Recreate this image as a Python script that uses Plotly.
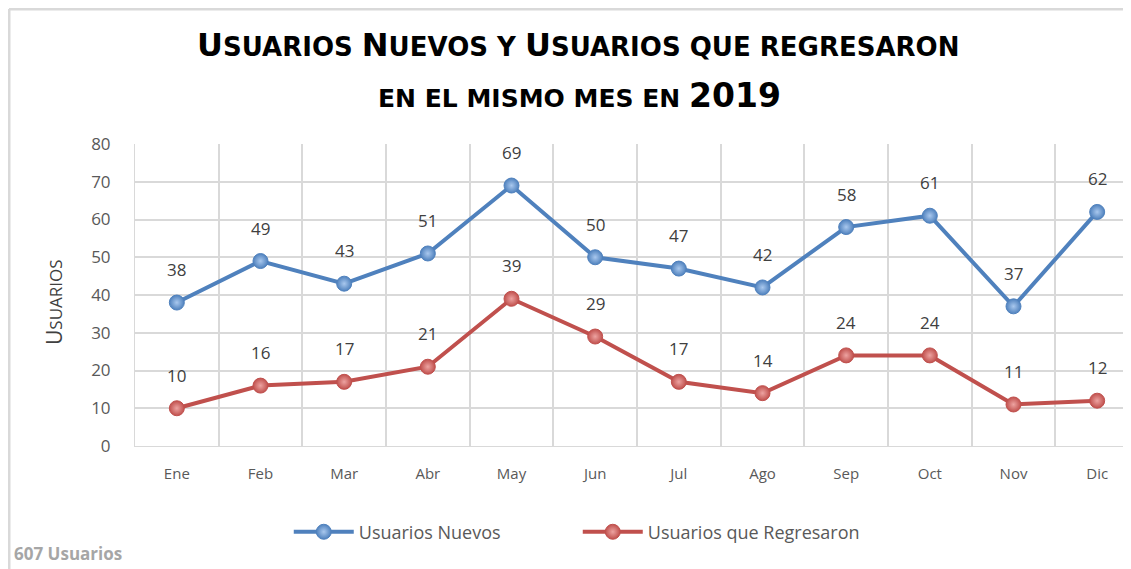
import plotly.graph_objects as go

months = ["Ene", "Feb", "Mar", "Abr", "May", "Jun", "Jul", "Ago", "Sep", "Oct", "Nov", "Dic"]
nuevos = [38, 49, 43, 51, 69, 50, 47, 42, 58, 61, 37, 62]
regresaron = [10, 16, 17, 21, 39, 29, 17, 14, 24, 24, 11, 12]
series_names = ["Usuarios Nuevos", "Usuarios que Regresaron"]
y_ticks = [0, 10, 20, 30, 40, 50, 60, 70, 80]

xs = list(range(len(months)))
blue = "#4F81BD"
red = "#C0504D"
font_main = "Open Sans, Liberation Sans, sans-serif"
title_font = "DejaVu Sans, sans-serif"


def small_caps(text, big, small):
    """Fake small caps: uppercase letters big, lowercase letters uppercased small."""
    out = []
    for ch in text:
        if ch.isupper() or ch.isdigit():
            out.append(f"<span style='font-size:{big}px'>{ch}</span>")
        elif ch == " ":
            out.append(f"<span style='font-size:{small}px'> </span>")
        else:
            out.append(f"<span style='font-size:{small}px'>{ch.upper()}</span>")
    return "".join(out)


fig = go.Figure()
for name, vals, col, light in [(series_names[0], nuevos, blue, "#A9C8EE"),
                               (series_names[1], regresaron, red, "#EDA3A1")]:
    fig.add_trace(go.Scatter(
        x=xs, y=vals, name=name, mode="lines+markers",
        line=dict(color=col, width=4),
        marker=dict(size=15, color=col, line=dict(color=col, width=1),
                    gradient=dict(type="radial", color=light)),
    ))
    for xi, v in zip(xs, vals):
        fig.add_annotation(x=xi, y=v, text=str(v), showarrow=False, yshift=33,
                           font=dict(size=17, color="#404040", family=font_main))

# Title
fig.add_annotation(xref="paper", yref="paper", x=0.441, y=1.328, xanchor="center",
                   yanchor="middle", showarrow=False,
                   text="<b>" + small_caps("Usuarios Nuevos y Usuarios que regresaron", 32, 26) + "</b>",
                   font=dict(size=26, color="#000000", family=title_font))
fig.add_annotation(xref="paper", yref="paper", x=0.443, y=1.162, xanchor="center",
                   yanchor="middle", showarrow=False,
                   text="<b>" + small_caps("en el mismo mes en ", 32, 25)
                        + "<span style='font-size:33px'>2019</span></b>",
                   font=dict(size=25, color="#000000", family=title_font))
# Y axis title
fig.add_annotation(xref="paper", yref="paper", x=0, xshift=-97, y=0.477, showarrow=False,
                   textangle=-90, text=small_caps("Usuarios", 21, 17),
                   font=dict(size=17, color="#404040", family=font_main))
# footer
fig.add_annotation(xref="paper", yref="paper", x=0, xshift=-123, y=0, yshift=-107,
                   xanchor="left", yanchor="middle", showarrow=False,
                   text="<b>607 Usuarios</b>",
                   font=dict(size=17, color="#A6A6A6", family=font_main))

# chart border (left & top)
fig.add_shape(type="line", xref="paper", yref="paper", x0=-0.1255, x1=-0.1255, y0=-0.5, y1=1.447,
              line=dict(color="#D9D9D9", width=3))
fig.add_shape(type="line", xref="paper", yref="paper", x0=-0.1255, x1=1.2, y0=1.447, y1=1.447,
              line=dict(color="#D9D9D9", width=3))

fig.update_layout(
    width=1131, height=569,
    margin=dict(l=127, r=0, t=136, b=131),
    paper_bgcolor="white", plot_bgcolor="white",
    showlegend=True,
    legend=dict(orientation="h", x=0.441, xanchor="center", y=-0.285, yanchor="middle",
                font=dict(size=18, color="#595959", family=font_main),
                itemwidth=60, tracegroupgap=0, entrywidthmode="pixels", entrywidth=214),
    xaxis=dict(range=[-0.5, 11.5], tickmode="array", tickvals=xs, ticktext=months,
               showgrid=False, zeroline=False, showline=True, linecolor="#D9D9D9", linewidth=1,
               ticks="", ticklabelstandoff=14,
               tickfont=dict(size=15, color="#595959", family=font_main),
               minor=dict(tickmode="linear", tick0=-0.5, dtick=1, showgrid=True,
                          gridcolor="#D9D9D9", gridwidth=1.5, ticks="")),
    yaxis=dict(range=[0, 80], tickmode="array", tickvals=y_ticks,
               showgrid=True, gridcolor="#D9D9D9", gridwidth=1.5, zeroline=False,
               showline=True, linecolor="#D9D9D9", linewidth=1, ticks="",
               ticklabelstandoff=20,
               tickfont=dict(size=17, color="#595959", family=font_main)),
)

fig.write_html("out.html")
